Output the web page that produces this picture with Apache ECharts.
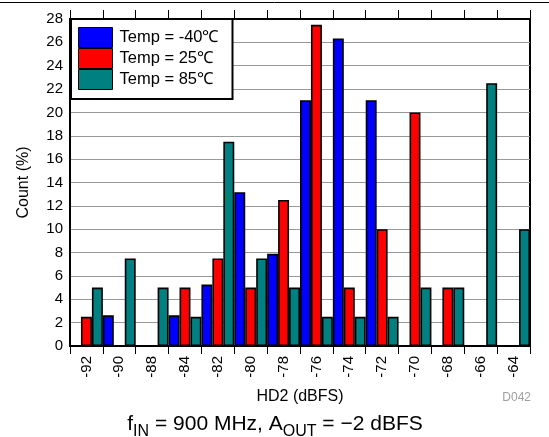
<!DOCTYPE html>
<html>
<head>
<meta charset="utf-8">
<script src="https://cdn.jsdelivr.net/npm/echarts@6/dist/echarts.min.js"></script>
<style>
html,body{margin:0;padding:0;background:#fff;}
#chart{width:549px;height:437px;}
</style>
</head>
<body>
<div id="chart"></div>
<script>
var categories = ['-92','-90','-88','-84','-82','-80','-78','-76','-74','-72','-70','-68','-66','-64'];
var seriesNames = ['Temp = -40\u2103', 'Temp = 25\u2103', 'Temp = 85\u2103'];
var tempM40 = [0, 2.63, 0, 2.63, 5.26, 13.16, 7.89, 21.05, 26.32, 21.05, 0, 0, 0, 0];
var temp25  = [2.5, 0, 0, 5, 7.5, 5, 12.5, 27.5, 5, 10, 20, 5, 0, 0];
var temp85  = [5, 7.5, 5, 2.5, 17.5, 7.5, 5, 2.5, 2.5, 2.5, 5, 5, 22.5, 10];
var yTicks = {min: 0, max: 28, interval: 2};
var colors = ['#0000ff', '#ff0000', '#008080'];

var FONT = '"Liberation Sans", Arial, Helvetica, sans-serif';
var chart = echarts.init(document.getElementById('chart'), null, {renderer: 'canvas'});

function barSeries(name, data, color) {
  return {
    name: name,
    type: 'bar',
    data: data,
    xAxisIndex: 0,
    barGap: '0%',
    barCategoryGap: '0%',
    itemStyle: {color: color, borderColor: '#000', borderWidth: 1.6},
    emphasis: {disabled: true},
    animation: false
  };
}

var option = {
  animation: false,
  textStyle: {fontFamily: FONT},
  grid: {left: 70, right: 19, top: 19, bottom: 91, show: true, borderColor: '#000', borderWidth: 2, backgroundColor: '#fff'},
  legend: {
    data: seriesNames,
    orient: 'vertical',
    left: 71,
    top: 19,
    itemWidth: 34,
    itemHeight: 20,
    itemGap: 0,
    icon: 'rect',
    padding: [8, 14, 9, 7],
    backgroundColor: '#fff',
    borderColor: '#000',
    borderWidth: 2,
    borderRadius: 0,
    selectedMode: false,
    itemStyle: {borderColor: '#000', borderWidth: 1},
    textStyle: {fontFamily: FONT, fontSize: 16.5, color: '#000', padding: [0, 0, 0, 2]}
  },
  xAxis: [{
    type: 'category',
    data: categories,
    position: 'bottom',
    name: 'HD2 (dBFS)',
    nameLocation: 'middle',
    nameGap: 43,
    nameTextStyle: {fontFamily: FONT, fontSize: 16, color: '#000'},
    axisLine: {show: true, lineStyle: {color: '#000', width: 2}},
    axisTick: {show: true, length: 8, lineStyle: {color: '#000', width: 1}},
    axisLabel: {rotate: 90, margin: 10, fontFamily: FONT, fontSize: 15, color: '#000'},
    splitLine: {show: false}
  }, {
    type: 'category',
    data: categories,
    position: 'top',
    axisLine: {show: true, lineStyle: {color: '#000', width: 2}},
    axisTick: {show: true, length: 9, lineStyle: {color: '#000', width: 1}},
    axisLabel: {show: false},
    splitLine: {show: false}
  }],
  yAxis: {
    type: 'value',
    min: yTicks.min,
    max: yTicks.max,
    interval: yTicks.interval,
    name: 'Count (%)',
    nameLocation: 'middle',
    nameGap: 38,
    nameTextStyle: {fontFamily: FONT, fontSize: 16, color: '#000'},
    axisLine: {show: true, lineStyle: {color: '#000', width: 2}},
    axisTick: {show: false},
    axisLabel: {fontFamily: FONT, fontSize: 15, color: '#000', margin: 7},
    splitLine: {show: true, lineStyle: {color: '#999', width: 1}}
  },
  series: [
    barSeries(seriesNames[0], tempM40, colors[0]),
    barSeries(seriesNames[1], temp25, colors[1]),
    barSeries(seriesNames[2], temp85, colors[2])
  ],
  graphic: [
    {type: 'line', shape: {x1: 0, y1: 2.5, x2: 549, y2: 2.5}, style: {stroke: '#000', lineWidth: 1}, silent: true},
    {type: 'text', x: 531, y: 398, style: {text: 'D042', fill: '#a0a0a0', font: '12px ' + FONT, textAlign: 'right', textVerticalAlign: 'middle'}, silent: true},
    {type: 'text', x: 275, y: 424, silent: true,
      style: {
        text: '{n|f}{s|IN}{n| = 900 MHz, A}{s|OUT}{n| = \u22122 dBFS}',
        textAlign: 'center',
        textVerticalAlign: 'middle',
        fill: '#000',
        rich: {
          n: {fontSize: 21, fontFamily: FONT, color: '#000'},
          s: {fontSize: 16, fontFamily: FONT, color: '#000', padding: [16, 0, 0, 0]}
        }
      }
    }
  ]
};
chart.setOption(option);
</script>
</body>
</html>
